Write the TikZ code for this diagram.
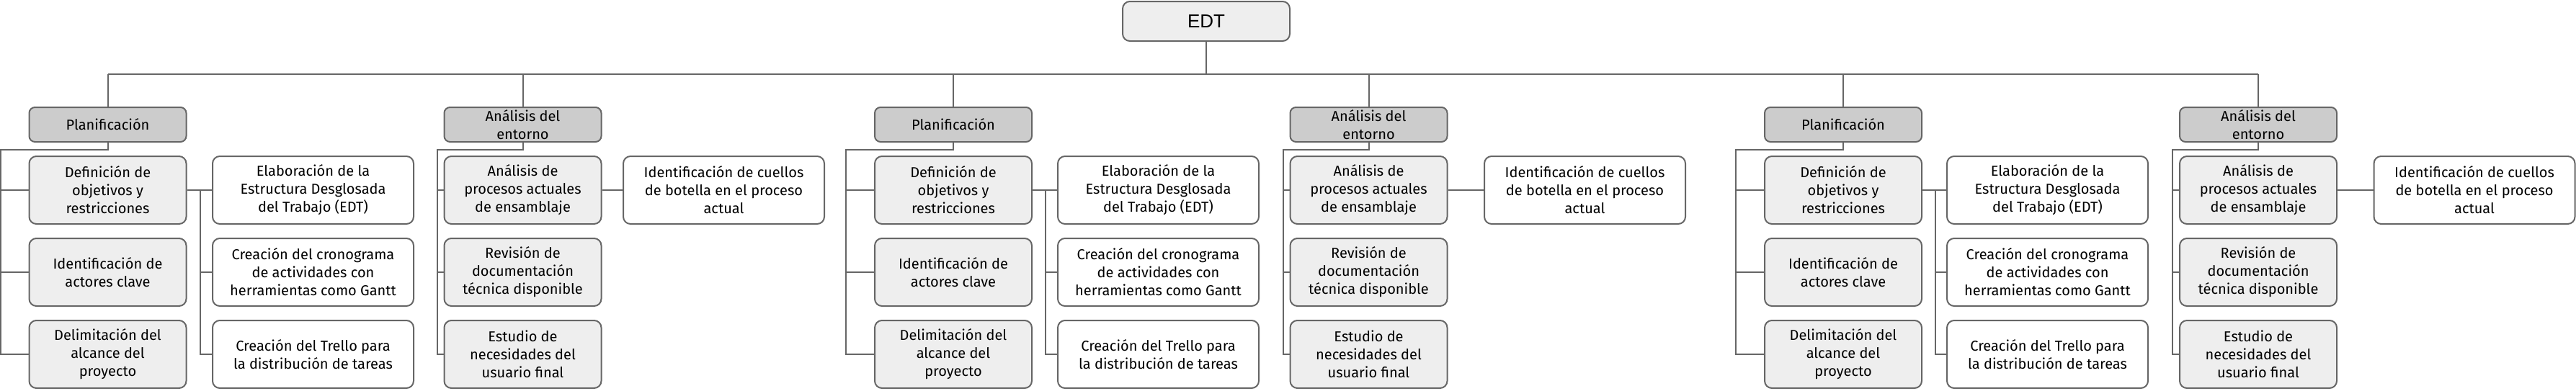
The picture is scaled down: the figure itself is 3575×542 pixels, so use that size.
\documentclass[tikz,border=0pt]{standalone}
\usepackage{fontspec}
\setmainfont{Fira Sans}
\newfontfamily\edtfont{Liberation Sans}
\definecolor{linegray}{HTML}{666666}
\definecolor{lvlone}{HTML}{CCCCCC}
\definecolor{lvltwo}{HTML}{EEEEEE}
\tikzset{
  box/.style={draw=linegray, line width=1pt, rounded corners=5pt, align=center,
    inner sep=0pt, font=\fontsize{10}{12.5}\selectfont},
  rootbox/.style={box, fill=lvltwo, minimum width=116pt, minimum height=27.5pt,
    font=\edtfont\fontsize{13}{15}\selectfont},
  headbox/.style={box, fill=lvlone, minimum width=109pt, minimum height=24pt, rounded corners=4pt},
  taskbox/.style={box, fill=lvltwo, minimum width=109pt, minimum height=47pt},
  leafbox/.style={box, fill=white, minimum width=139.5pt, minimum height=47pt},
  link/.style={draw=linegray, line width=1pt}
}
\newcommand{\PlanGroup}[3]{%
  \node[headbox] (#1) at (#2,173) {Planificación};
  \node[taskbox] (#1c1) at (#2,264) {Definición de\\objetivos y\\restricciones};
  \node[taskbox] (#1c2) at (#2,378) {Identificación de\\actores clave};
  \node[taskbox] (#1c3) at (#2,492) {Delimitación del\\alcance del\\proyecto};
  \node[leafbox] (#1w1) at (#3,264) {Elaboración de la\\Estructura Desglosada\\del Trabajo (EDT)};
  \node[leafbox] (#1w2) at (#3,378) {Creación del cronograma\\de actividades con\\herramientas como Gantt};
  \node[leafbox] (#1w3) at (#3,492) {Creación del Trello para\\la distribución de tareas};
  \draw[link] (#1.north) -- (#1.north |- top);
  \draw[link] (#1.south) -- ++(0,10) -| ([xshift=-19.5pt]#1c3.west) -- (#1c3.west);
  \draw[link] ([xshift=-19.5pt]#1c1.west) -- (#1c1.west);
  \draw[link] ([xshift=-19.5pt]#1c2.west) -- (#1c2.west);
  \draw[link] (#1c1.east) -- (#1w1.west);
  \draw[link] ([xshift=9pt]#1c1.east) |- (#1w2.west);
  \draw[link] ([xshift=9pt]#1c1.east) |- (#1w3.west);
}
\newcommand{\EnvGroup}[3]{%
  \node[headbox] (#1) at (#2,173) {Análisis del\\entorno};
  \node[taskbox] (#1c1) at (#2,264) {Análisis de\\procesos actuales\\de ensamblaje};
  \node[taskbox] (#1c2) at (#2,378) {Revisión de\\documentación\\técnica disponible};
  \node[taskbox] (#1c3) at (#2,492) {Estudio de\\necesidades del\\usuario final};
  \node[leafbox] (#1w1) at (#3,264) {Identificación de cuellos\\de botella en el proceso\\actual};
  \draw[link] (#1.north) -- (#1.north |- top);
  \draw[link] (#1.south) -- ++(0,10) -| ([xshift=-4.5pt]#1c3.west) -- (#1c3.west);
  \draw[link] ([xshift=-4.5pt]#1c1.west) -- (#1c1.west);
  \draw[link] ([xshift=-4.5pt]#1c2.west) -- (#1c2.west);
  \draw[link] (#1c1.east) -- (#1w1.west);
}
\begin{document}
\begin{tikzpicture}[x=0.5pt, y=-0.5pt]
  \useasboundingbox (0,0) rectangle (3575,542);
  \node[rootbox] (edt) at (1674,29.5) {EDT};
  \coordinate (top) at (1674,103);
  \draw[link] (edt.south) -- (top);
  \PlanGroup{pa}{149.5}{434.5}
  \EnvGroup{ea}{725.5}{1004.5}
  \PlanGroup{pb}{1323}{1607.5}
  \EnvGroup{eb}{1899.5}{2199.5}
  \PlanGroup{pc}{2558}{2841.5}
  \EnvGroup{ec}{3134}{3434}
  \draw[link] (pa.north |- top) -- (ec.north |- top);
\end{tikzpicture}
\end{document}
